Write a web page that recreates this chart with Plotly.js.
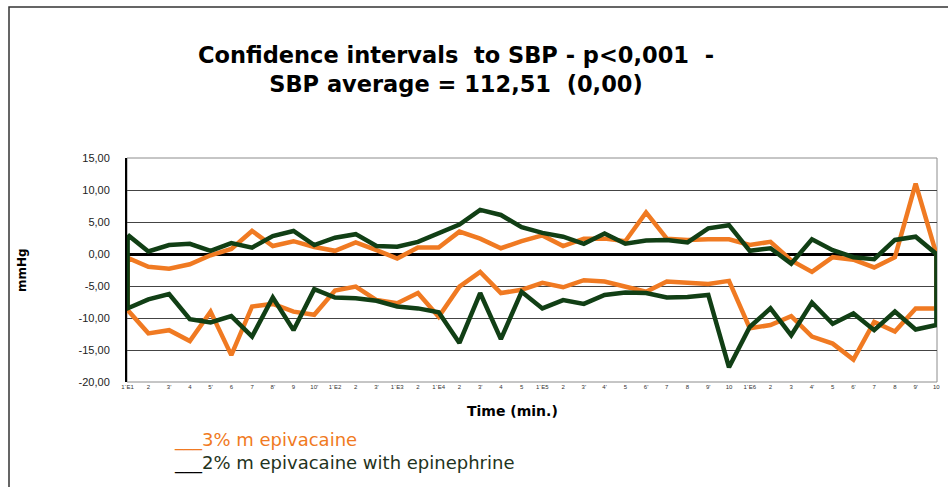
<!DOCTYPE html>
<html>
<head>
<meta charset="utf-8">
<script src="https://cdn.plot.ly/plotly-3.0.1.min.js"></script>
<style>html,body{margin:0;padding:0;background:#fff;}#chart{width:948px;height:487px;}</style>
</head>
<body>
<div id="chart"></div>
<script>
// Category tick labels (time points)
const timeLabels = ["1´E1","2","3'","4","5'","6","7","8'","9","10'",
  "1´E2","2","3'","1´E3","2","1´E4","2","3'","4","5",
  "1´E5","2","3'","4'","5","6'","7","8","9'","10",
  "1´E6","2","3","4'","5","6'","7","8","9'","10"];

// 3% mepivacaine CI bounds (mmHg)
const orangeUpper = [-0.6,-2.0,-2.3,-1.6,-0.2,0.8,3.6,1.25,2.0,1.1,
  0.5,1.8,0.6,-0.7,1.0,1.0,3.5,2.4,0.9,2.0,
  2.9,1.25,2.4,2.4,2.0,6.5,2.4,2.2,2.3,2.3,
  1.4,1.9,-1.0,-2.8,-0.5,-0.9,-2.1,-0.5,11.0,0.0];
const orangeLower = [-8.75,-12.4,-11.9,-13.6,-9.0,-15.8,-8.2,-7.8,-9.0,-9.5,
  -5.7,-5.1,-7.2,-7.7,-6.1,-9.8,-5.1,-2.8,-6.1,-5.6,
  -4.5,-5.2,-4.1,-4.3,-5.1,-5.9,-4.3,-4.5,-4.7,-4.2,
  -11.6,-11.1,-9.7,-12.9,-14.0,-16.5,-10.6,-12.1,-8.5,-8.5];

// 2% mepivacaine with epinephrine CI bounds (mmHg)
const greenUpper = [3.0,0.4,1.4,1.6,0.5,1.7,1.0,2.8,3.6,1.4,
  2.55,3.1,1.25,1.15,1.9,3.2,4.6,6.9,6.1,4.2,
  3.3,2.7,1.6,3.2,1.6,2.1,2.2,1.8,4.0,4.5,
  0.5,0.9,-1.5,2.3,0.6,-0.5,-0.8,2.2,2.7,0.0];
const greenLower = [-8.5,-7.1,-6.25,-10.2,-10.7,-9.7,-12.9,-6.8,-11.9,-5.5,
  -6.8,-6.9,-7.3,-8.2,-8.5,-9.1,-13.9,-6.1,-13.3,-5.9,
  -8.5,-7.2,-7.8,-6.4,-6.0,-6.1,-6.8,-6.7,-6.4,-17.7,
  -11.4,-8.5,-12.7,-7.6,-10.9,-9.3,-11.9,-9.0,-11.8,-11.1];

const yTickVals = [15,10,5,0,-5,-10,-15,-20];
const yTickText = ["15,00","10,00","5,00","0,00","-5,00","-10,00","-15,00","-20,00"];

const idx = timeLabels.map((_, i) => i);
function loop(upper, lower) {
  const x = idx.concat(idx.slice().reverse()).concat([idx[0]]);
  const y = upper.concat(lower.slice().reverse()).concat([upper[0]]);
  return {x, y};
}
const oL = loop(orangeUpper, orangeLower);
const gL = loop(greenUpper, greenLower);

const ORANGE = "#f07a22";
const GREEN = "#113f15";

const traces = [
  {x: oL.x, y: oL.y, type: "scatter", mode: "lines", name: "3% mepivacaine",
   line: {color: ORANGE, width: 4.5}, hoverinfo: "skip"},
  {x: gL.x, y: gL.y, type: "scatter", mode: "lines", name: "2% mepivacaine with epinephrine",
   line: {color: GREEN, width: 4.5}, hoverinfo: "skip"}
];

const L = 127, T = 158, W = 810, H = 224;
const px = v => (v - L) / W;
const py = v => (T + H - v) / H;

const layout = {
  width: 948, height: 487,
  margin: {l: L, r: 948 - L - W, t: T, b: 487 - T - H},
  paper_bgcolor: "#ffffff", plot_bgcolor: "#ffffff",
  showlegend: false,
  title: {
    text: "<b>Confidence intervals  to SBP - p&lt;0,001  -<br>SBP average = 112,51  (0,00)</b>",
    font: {family: "DejaVu Sans", size: 22.5, color: "#000", weight: "bold"},
    xref: "container", x: 456 / 948, xanchor: "center",
    yref: "container", y: 1 - 63 / 487, yanchor: "middle"
  },
  xaxis: {
    range: [-0.03, 39.03], tickmode: "array", tickvals: idx, ticktext: timeLabels,
    tickfont: {family: "Liberation Sans", size: 6, color: "#333"},
    showgrid: false, zeroline: false, showline: false, ticks: "", tickangle: 0,
    fixedrange: true
  },
  yaxis: {
    range: [-20, 15], tickmode: "array", tickvals: yTickVals, ticktext: yTickText,
    tickfont: {family: "Liberation Sans", size: 11, color: "#222"},
    showgrid: true, gridcolor: "#444", gridwidth: 1,
    zeroline: true, zerolinecolor: "#000", zerolinewidth: 3,
    showline: true, linecolor: "#000", linewidth: 2,
    ticks: "", ticklabelstandoff: 13, fixedrange: true
  },
  shapes: [
    {type: "rect", xref: "paper", yref: "paper", x0: 0, x1: 1, y0: 0, y1: 1,
     line: {color: "#8c8c8c", width: 1}, layer: "below"},
    {type: "path", xref: "paper", yref: "paper",
     path: `M ${px(9)} ${py(495)} L ${px(9)} ${py(7)} L ${px(955)} ${py(7)}`,
     line: {color: "#333", width: 1.5}}
  ],
  annotations: [
    {text: "<b>Time (min.)</b>", xref: "paper", yref: "paper", x: px(512), y: py(411),
     xanchor: "center", yanchor: "middle", showarrow: false,
     font: {family: "DejaVu Sans", size: 14, color: "#000"}},
    {text: "<b>mmHg</b>", xref: "paper", yref: "paper", x: px(22), y: py(270),
     xanchor: "center", yanchor: "middle", showarrow: false, textangle: -90,
     font: {family: "DejaVu Sans", size: 12, color: "#000"}},
    {text: "___3% m epivacaine", xref: "paper", yref: "paper", x: px(172), y: py(440),
     xanchor: "left", yanchor: "middle", showarrow: false,
     font: {family: "DejaVu Sans", size: 18, color: ORANGE}},
    {text: "<span style='color:#000'>___</span>2% m epivacaine with epinephrine",
     xref: "paper", yref: "paper", x: px(172), y: py(463),
     xanchor: "left", yanchor: "middle", showarrow: false,
     font: {family: "DejaVu Sans", size: 18, color: "#1f3320"}}
  ]
};

Plotly.newPlot("chart", traces, layout, {displayModeBar: false, staticPlot: true});
</script>
</body>
</html>
